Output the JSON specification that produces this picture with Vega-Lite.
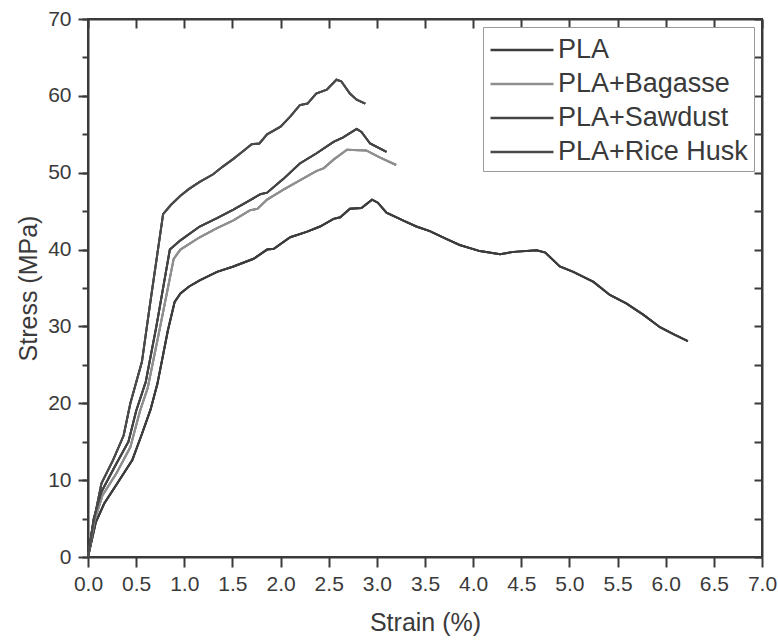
{
  "$schema": "https://vega.github.io/schema/vega-lite/v6.json",
  "width": 674,
  "height": 538,
  "autosize": "none",
  "padding": {"left": 88, "top": 19, "right": 16, "bottom": 84},
  "background": "white",
  "config": {
    "view": {"stroke": "#3a3a3a", "strokeWidth": 2},
    "font": "Liberation Sans",
    "axis": {"grid": false, "domainColor": "#3a3a3a", "tickColor": "#3a3a3a", "domainWidth": 2, "tickWidth": 2, "labelColor": "#3a3a3a", "titleColor": "#3a3a3a", "labelFont": "Liberation Sans", "titleFont": "Liberation Sans", "titleFontWeight": "normal"}
  },
  "data": {"values": [
    {"s": "PLA", "x": 0, "y": 0},
    {"s": "PLA", "x": 0.08, "y": 4.5},
    {"s": "PLA", "x": 0.17, "y": 7.0},
    {"s": "PLA", "x": 0.3, "y": 9.5},
    {"s": "PLA", "x": 0.46, "y": 12.6},
    {"s": "PLA", "x": 0.56, "y": 16.0},
    {"s": "PLA", "x": 0.65, "y": 19.2},
    {"s": "PLA", "x": 0.72, "y": 22.5},
    {"s": "PLA", "x": 0.83, "y": 29.5},
    {"s": "PLA", "x": 0.9, "y": 33.2},
    {"s": "PLA", "x": 0.96, "y": 34.3},
    {"s": "PLA", "x": 1.05, "y": 35.2},
    {"s": "PLA", "x": 1.16, "y": 36.0},
    {"s": "PLA", "x": 1.34, "y": 37.1},
    {"s": "PLA", "x": 1.51, "y": 37.8},
    {"s": "PLA", "x": 1.72, "y": 38.8},
    {"s": "PLA", "x": 1.86, "y": 40.0},
    {"s": "PLA", "x": 1.93, "y": 40.1},
    {"s": "PLA", "x": 2.1, "y": 41.6},
    {"s": "PLA", "x": 2.27, "y": 42.3},
    {"s": "PLA", "x": 2.41, "y": 43.0},
    {"s": "PLA", "x": 2.55, "y": 44.0},
    {"s": "PLA", "x": 2.62, "y": 44.2},
    {"s": "PLA", "x": 2.72, "y": 45.3},
    {"s": "PLA", "x": 2.84, "y": 45.4},
    {"s": "PLA", "x": 2.95, "y": 46.5},
    {"s": "PLA", "x": 3.01, "y": 46.1},
    {"s": "PLA", "x": 3.1, "y": 44.8},
    {"s": "PLA", "x": 3.27, "y": 43.8},
    {"s": "PLA", "x": 3.41, "y": 43.0},
    {"s": "PLA", "x": 3.55, "y": 42.4},
    {"s": "PLA", "x": 3.72, "y": 41.4},
    {"s": "PLA", "x": 3.86, "y": 40.6},
    {"s": "PLA", "x": 4.07, "y": 39.8},
    {"s": "PLA", "x": 4.28, "y": 39.4},
    {"s": "PLA", "x": 4.42, "y": 39.7},
    {"s": "PLA", "x": 4.66, "y": 39.9},
    {"s": "PLA", "x": 4.75, "y": 39.6},
    {"s": "PLA", "x": 4.9, "y": 37.8},
    {"s": "PLA", "x": 5.04, "y": 37.1},
    {"s": "PLA", "x": 5.25, "y": 35.8},
    {"s": "PLA", "x": 5.42, "y": 34.1},
    {"s": "PLA", "x": 5.59, "y": 33.0},
    {"s": "PLA", "x": 5.77, "y": 31.5},
    {"s": "PLA", "x": 5.94, "y": 29.9},
    {"s": "PLA", "x": 6.08, "y": 29.0},
    {"s": "PLA", "x": 6.23, "y": 28.1},

    {"s": "PLA+Bagasse", "x": 0, "y": 0},
    {"s": "PLA+Bagasse", "x": 0.07, "y": 4.8},
    {"s": "PLA+Bagasse", "x": 0.15, "y": 8.0},
    {"s": "PLA+Bagasse", "x": 0.3, "y": 11.0},
    {"s": "PLA+Bagasse", "x": 0.44, "y": 14.3},
    {"s": "PLA+Bagasse", "x": 0.54, "y": 19.0},
    {"s": "PLA+Bagasse", "x": 0.62, "y": 22.0},
    {"s": "PLA+Bagasse", "x": 0.75, "y": 30.0},
    {"s": "PLA+Bagasse", "x": 0.89, "y": 38.8},
    {"s": "PLA+Bagasse", "x": 0.96, "y": 40.0},
    {"s": "PLA+Bagasse", "x": 1.16, "y": 41.6},
    {"s": "PLA+Bagasse", "x": 1.34, "y": 42.8},
    {"s": "PLA+Bagasse", "x": 1.51, "y": 43.8},
    {"s": "PLA+Bagasse", "x": 1.68, "y": 45.1},
    {"s": "PLA+Bagasse", "x": 1.76, "y": 45.3},
    {"s": "PLA+Bagasse", "x": 1.86, "y": 46.5},
    {"s": "PLA+Bagasse", "x": 2.03, "y": 47.8},
    {"s": "PLA+Bagasse", "x": 2.2, "y": 49.0},
    {"s": "PLA+Bagasse", "x": 2.37, "y": 50.2},
    {"s": "PLA+Bagasse", "x": 2.45, "y": 50.6},
    {"s": "PLA+Bagasse", "x": 2.55, "y": 51.7},
    {"s": "PLA+Bagasse", "x": 2.69, "y": 53.0},
    {"s": "PLA+Bagasse", "x": 2.89, "y": 52.9},
    {"s": "PLA+Bagasse", "x": 3.03, "y": 52.0},
    {"s": "PLA+Bagasse", "x": 3.2, "y": 51.0},

    {"s": "PLA+Sawdust", "x": 0, "y": 0},
    {"s": "PLA+Sawdust", "x": 0.06, "y": 5.0},
    {"s": "PLA+Sawdust", "x": 0.14, "y": 8.5},
    {"s": "PLA+Sawdust", "x": 0.28, "y": 11.8},
    {"s": "PLA+Sawdust", "x": 0.42, "y": 15.0},
    {"s": "PLA+Sawdust", "x": 0.5, "y": 19.0},
    {"s": "PLA+Sawdust", "x": 0.6, "y": 22.8},
    {"s": "PLA+Sawdust", "x": 0.71, "y": 30.0},
    {"s": "PLA+Sawdust", "x": 0.85, "y": 40.0},
    {"s": "PLA+Sawdust", "x": 0.96, "y": 41.2},
    {"s": "PLA+Sawdust", "x": 1.16, "y": 43.0},
    {"s": "PLA+Sawdust", "x": 1.34, "y": 44.1},
    {"s": "PLA+Sawdust", "x": 1.51, "y": 45.2},
    {"s": "PLA+Sawdust", "x": 1.68, "y": 46.4},
    {"s": "PLA+Sawdust", "x": 1.79, "y": 47.2},
    {"s": "PLA+Sawdust", "x": 1.86, "y": 47.4},
    {"s": "PLA+Sawdust", "x": 2.03, "y": 49.2},
    {"s": "PLA+Sawdust", "x": 2.2, "y": 51.2},
    {"s": "PLA+Sawdust", "x": 2.37, "y": 52.5},
    {"s": "PLA+Sawdust", "x": 2.55, "y": 54.0},
    {"s": "PLA+Sawdust", "x": 2.65, "y": 54.6},
    {"s": "PLA+Sawdust", "x": 2.79, "y": 55.7},
    {"s": "PLA+Sawdust", "x": 2.84, "y": 55.3},
    {"s": "PLA+Sawdust", "x": 2.93, "y": 53.8},
    {"s": "PLA+Sawdust", "x": 3.1, "y": 52.7},

    {"s": "PLA+Rice Husk", "x": 0, "y": 0},
    {"s": "PLA+Rice Husk", "x": 0.05, "y": 4.0},
    {"s": "PLA+Rice Husk", "x": 0.14, "y": 9.6},
    {"s": "PLA+Rice Husk", "x": 0.26, "y": 12.6},
    {"s": "PLA+Rice Husk", "x": 0.37, "y": 15.8},
    {"s": "PLA+Rice Husk", "x": 0.44, "y": 20.0},
    {"s": "PLA+Rice Husk", "x": 0.56, "y": 25.4},
    {"s": "PLA+Rice Husk", "x": 0.64, "y": 32.5},
    {"s": "PLA+Rice Husk", "x": 0.78, "y": 44.6},
    {"s": "PLA+Rice Husk", "x": 0.86, "y": 45.8},
    {"s": "PLA+Rice Husk", "x": 0.96, "y": 47.0},
    {"s": "PLA+Rice Husk", "x": 1.05, "y": 47.9},
    {"s": "PLA+Rice Husk", "x": 1.16, "y": 48.8},
    {"s": "PLA+Rice Husk", "x": 1.3, "y": 49.8},
    {"s": "PLA+Rice Husk", "x": 1.4, "y": 50.8},
    {"s": "PLA+Rice Husk", "x": 1.51, "y": 51.8},
    {"s": "PLA+Rice Husk", "x": 1.6, "y": 52.7},
    {"s": "PLA+Rice Husk", "x": 1.7, "y": 53.7},
    {"s": "PLA+Rice Husk", "x": 1.78, "y": 53.8},
    {"s": "PLA+Rice Husk", "x": 1.86, "y": 55.0},
    {"s": "PLA+Rice Husk", "x": 2.0, "y": 56.0},
    {"s": "PLA+Rice Husk", "x": 2.1, "y": 57.3},
    {"s": "PLA+Rice Husk", "x": 2.2, "y": 58.8},
    {"s": "PLA+Rice Husk", "x": 2.28, "y": 59.0},
    {"s": "PLA+Rice Husk", "x": 2.37, "y": 60.3},
    {"s": "PLA+Rice Husk", "x": 2.48, "y": 60.8},
    {"s": "PLA+Rice Husk", "x": 2.58, "y": 62.1},
    {"s": "PLA+Rice Husk", "x": 2.63, "y": 61.9},
    {"s": "PLA+Rice Husk", "x": 2.72, "y": 60.3},
    {"s": "PLA+Rice Husk", "x": 2.79, "y": 59.5},
    {"s": "PLA+Rice Husk", "x": 2.88, "y": 59.0}
  ]},
  "resolve": {"scale": {"x": "independent", "y": "independent"}, "axis": {"x": "independent", "y": "independent"}},
  "layer": [
    {
      "mark": {"type": "rule", "color": "#3a3a3a", "strokeWidth": 2},
      "encoding": {
        "x": {"datum": 0, "type": "quantitative", "scale": {"domain": [0, 7], "nice": false, "zero": false}, "axis": null},
        "x2": {"datum": 7},
        "y": {"datum": 70, "type": "quantitative", "scale": {"domain": [0, 70], "nice": false, "zero": false}, "axis": null}
      }
    },
    {
      "mark": {"type": "rule", "color": "#3a3a3a", "strokeWidth": 2},
      "encoding": {
        "x": {"datum": 7, "type": "quantitative", "scale": {"domain": [0, 7], "nice": false, "zero": false}, "axis": null},
        "y": {"datum": 0, "type": "quantitative", "scale": {"domain": [0, 70], "nice": false, "zero": false}, "axis": null},
        "y2": {"datum": 70}
      }
    },
    {
      "mark": {"type": "line", "strokeWidth": 2},
      "encoding": {
        "x": {"field": "x", "type": "quantitative",
          "scale": {"domain": [0, 7], "nice": false, "zero": false},
          "axis": {"title": "Strain (%)", "orient": "bottom", "values": [0,0.5,1,1.5,2,2.5,3,3.5,4,4.5,5,5.5,6,6.5,7], "format": ".1f", "tickSize": 10, "labelPadding": 6, "labelFontSize": 21, "titleFontSize": 25, "titlePadding": 16, "labelFlush": false, "labelOverlap": false}},
        "y": {"field": "y", "type": "quantitative",
          "scale": {"domain": [0, 70], "nice": false, "zero": false},
          "axis": {"title": "Stress (MPa)", "orient": "left", "values": [0,10,20,30,40,50,60,70], "tickSize": 10, "labelPadding": 7, "labelFontSize": 21, "titleFontSize": 25, "titlePadding": 6, "labelFlush": false, "labelOverlap": false}},
        "color": {"field": "s", "type": "nominal",
          "scale": {"domain": ["PLA", "PLA+Bagasse", "PLA+Sawdust", "PLA+Rice Husk"], "range": ["#3c3c3c", "#8f8f8f", "#444444", "#4a4a4a"]},
          "legend": {"title": null, "orient": "top-right", "offset": 8, "strokeColor": "#9a9a9a", "fillColor": "white", "padding": 6, "symbolType": "M-2,0H2", "symbolSize": 992, "symbolOffset": 16, "symbolStrokeWidth": 2.5, "labelFontSize": 27, "labelFont": "Liberation Sans", "labelColor": "#3a3a3a", "labelOffset": 19, "rowPadding": 4, "labelLimit": 400}}
      }
    },
    {
      "mark": {"type": "line", "strokeWidth": 2},
      "encoding": {
        "x": {"field": "x", "type": "quantitative",
          "scale": {"domain": [0, 7], "nice": false, "zero": false},
          "axis": {"title": null, "orient": "top", "tickSize": -9, "tickCount": 14, "labels": false}},
        "y": {"field": "y", "type": "quantitative",
          "scale": {"domain": [0, 70], "nice": false, "zero": false},
          "axis": {"title": null, "orient": "right", "tickSize": -8, "tickCount": 14, "labels": false}},
        "color": {"field": "s", "type": "nominal"}
      }
    },
    {
      "mark": {"type": "line", "strokeWidth": 2},
      "encoding": {
        "x": {"field": "x", "type": "quantitative",
          "scale": {"domain": [0, 7], "nice": false, "zero": false}, "axis": null},
        "y": {"field": "y", "type": "quantitative",
          "scale": {"domain": [0, 70], "nice": false, "zero": false},
          "axis": {"title": null, "orient": "left", "tickSize": 6, "tickCount": 14, "labels": false, "domain": false}},
        "color": {"field": "s", "type": "nominal"}
      }
    }
  ]
}
